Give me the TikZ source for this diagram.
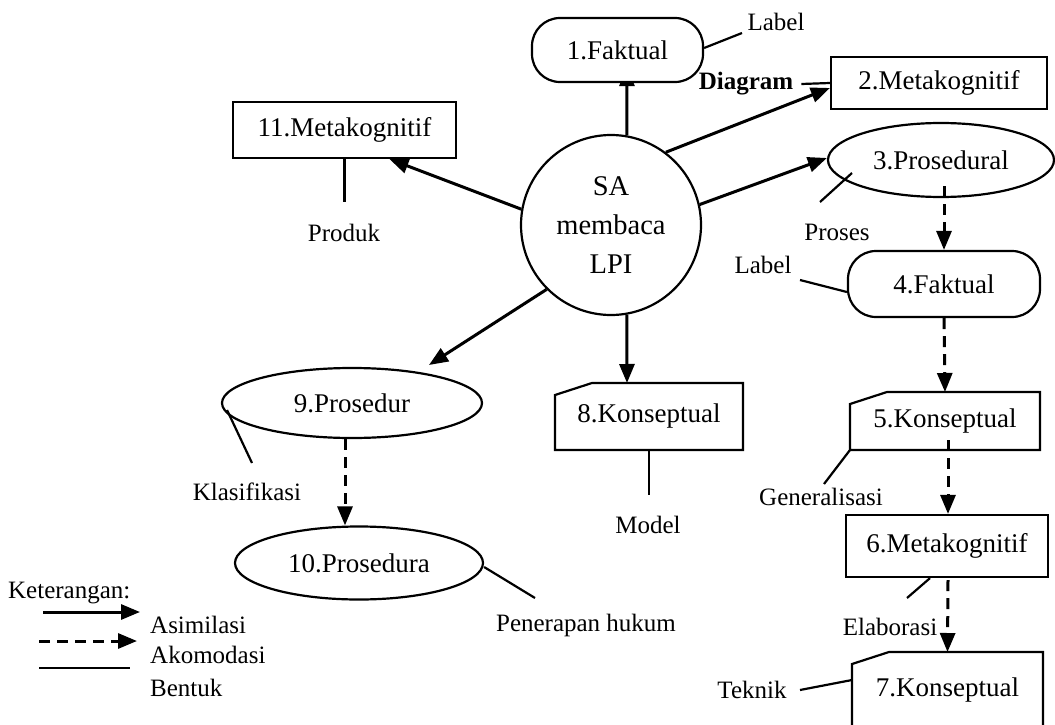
\documentclass[tikz,border=0pt]{standalone}
\usepackage{fontspec}
\setmainfont{Liberation Serif}
\usetikzlibrary{arrows.meta,shapes.geometric,backgrounds}
\newcommand\chamferbox[1]{\draw[form, line join=miter] (#1.south west) -- ([yshift=-12pt]#1.north west) -- ([xshift=37pt]#1.north west) -- (#1.north east) -- (#1.south east) -- cycle;}
\begin{document}
\begin{tikzpicture}[x=1pt,y=-1pt,
  nodetext/.style={font=\fontsize{27}{32}\selectfont},
  lbl/.style={font=\fontsize{25}{29}\selectfont, inner sep=0pt},
  box/.style={draw, line width=2.2pt, rectangle, inner sep=0pt, fill=white, nodetext},
  rbox/.style={box, rounded corners=28pt},
  ell/.style={draw, line width=2.2pt, ellipse, inner sep=0pt, nodetext},
  plainbox/.style={inner sep=0pt, outer sep=0pt, nodetext},
  asim/.style={line width=3pt, -{Triangle[length=19pt,width=15pt]}},
  akom/.style={line width=3pt, dash pattern=on 11pt off 7pt, -{Triangle[length=19pt,width=15pt]}},
  form/.style={line width=2.2pt},
]
\useasboundingbox (0,0) rectangle (1055,725);

% nodes
\node[rbox, minimum width=171pt, minimum height=64pt] (f1) at (617.5,50) {1.Faktual};
\node[box, minimum width=216pt, minimum height=52pt] (m2) at (939,83) {2.Metakognitif};
\node[ell, minimum width=226pt, minimum height=74pt] (p3) at (941,160) {3.Prosedural};
\node[rbox, minimum width=192pt, minimum height=66pt] (f4) at (944,284) {4.Faktual};
\node[plainbox, minimum width=190pt, minimum height=58pt] (k5) at (945,421) {5.Konseptual};
\node[box, minimum width=202pt, minimum height=62pt] (m6) at (947,546) {6.Metakognitif};
\node[plainbox, minimum width=191pt, minimum height=76pt] (k7) at (947.5,690) {7.Konseptual};
\node[plainbox, minimum width=188pt, minimum height=67pt] (k8) at (649,416.5) {8.Konseptual};
\node[ell, minimum width=260pt, minimum height=70pt] (p9) at (352,403) {9.Prosedur};
\node[ell, minimum width=248pt, minimum height=73pt] (p10) at (359,563) {10.Prosedura};
\node[box, minimum width=223pt, minimum height=56pt] (m11) at (344.5,130) {11.Metakognitif};
\node[circle, draw, line width=2.2pt, minimum size=180pt, inner sep=0pt, align=center, font=\fontsize{28.5}{39}\selectfont] (sa) at (611,225) {SA\\membaca\\LPI};

\chamferbox{k5}
\chamferbox{k7}
\chamferbox{k8}

% labels
\node[lbl] (lab1) at (776,22) {Label};
\node[lbl, font={\fontsize{25}{29}\selectfont\bfseries}] (dg) at (746,84) {Diagram};
\node[lbl] (ps) at (837,232) {Proses};
\node[lbl] (lab4) at (763,265) {Label};
\node[lbl] (gen) at (821,497) {Generalisasi};
\node[lbl] (ela) at (890,627) {Elaborasi};
\node[lbl] (tek) at (752,690) {Teknik};
\node[lbl] (mod) at (648,525) {Model};
\node[lbl] (kls) at (247,492) {Klasifikasi};
\node[lbl] (pen) at (586,625) {Penerapan hukum};
\node[lbl] (prd) at (344,233) {Produk};

% assimilation arrows
\begin{scope}[on background layer]
\draw[asim] (sa.80) -- ([xshift=9.5pt,yshift=16pt]f1.south);
\end{scope}
\draw[asim] (sa.53) -- ([yshift=-5pt]m2.west);
\draw[asim] (sa.13) -- ([yshift=2pt]p3.west);
\draw[asim] (sa.170) -- ([xshift=45pt]m11.south);
\draw[asim] (sa.225) -- ([xshift=77pt,yshift=38pt]p9.center);
\draw[asim] (sa.-80) -- ([xshift=-22pt]k8.north);

% accommodation arrows
\draw[akom] ([xshift=3pt,yshift=12pt]p3.south) -- (f4.north);
\draw[akom] (f4.south) -- (k5.north);
\draw[akom] ([xshift=3pt,yshift=10pt]k5.south) -- ([xshift=1pt]m6.north);
\draw[akom] ([xshift=1pt,yshift=-2pt]m6.south) -- (k7.north);
\draw[akom] ([xshift=-7pt]p9.south) -- ([xshift=-14pt]p10.north);

% form lines
\coordinate (c1) at (742,33);
\coordinate (c3a) at (852,173);
\coordinate (c3b) at (820,202);
\coordinate (c4) at (800,280);
\coordinate (c5) at (824,484);
\coordinate (c6) at (907,598);
\coordinate (c7) at (800,690);
\coordinate (c8) at (649,495);
\coordinate (c9a) at (227,410);
\coordinate (c9b) at (252,463);
\coordinate (c10) at (535,598);
\coordinate (c11) at (344.5,202);
\draw[form] ([yshift=2pt]f1.east) -- (c1);
\draw[form] ([xshift=8pt]dg.east) -- (m2.west);
\draw[form] (c3a) -- (c3b);
\draw[form] (c4) -- ([yshift=-8pt]f4.west);
\draw[form] (k5.south west) -- (c5);
\draw[form] ([xshift=-17pt]m6.south) -- (c6);
\draw[form] (c7) -- ([yshift=-28pt]k7.north west);
\draw[form] (k8.south) -- (c8);
\draw[form] (c9a) -- (c9b);
\draw[form] ([yshift=-4pt]p10.east) -- (c10);
\draw[form] (m11.south) -- (c11);

% legend
\node[lbl, anchor=west] (ket) at (8,593) {Keterangan:};
\coordinate (la1) at (43,612); \coordinate (la2) at (140,612);
\coordinate (lb1) at (39,641); \coordinate (lb2) at (137,641);
\coordinate (lc1) at (39,668); \coordinate (lc2) at (130,668);
\draw[asim] (la1) -- (la2);
\draw[akom] (lb1) -- (lb2);
\draw[form] (lc1) -- (lc2);
\node[lbl, anchor=west] (as) at (150,625) {Asimilasi};
\node[lbl, anchor=west] (ak) at (150,655) {Akomodasi};
\node[lbl, anchor=west] (bt) at (150,688) {Bentuk};
\end{tikzpicture}
\end{document}
